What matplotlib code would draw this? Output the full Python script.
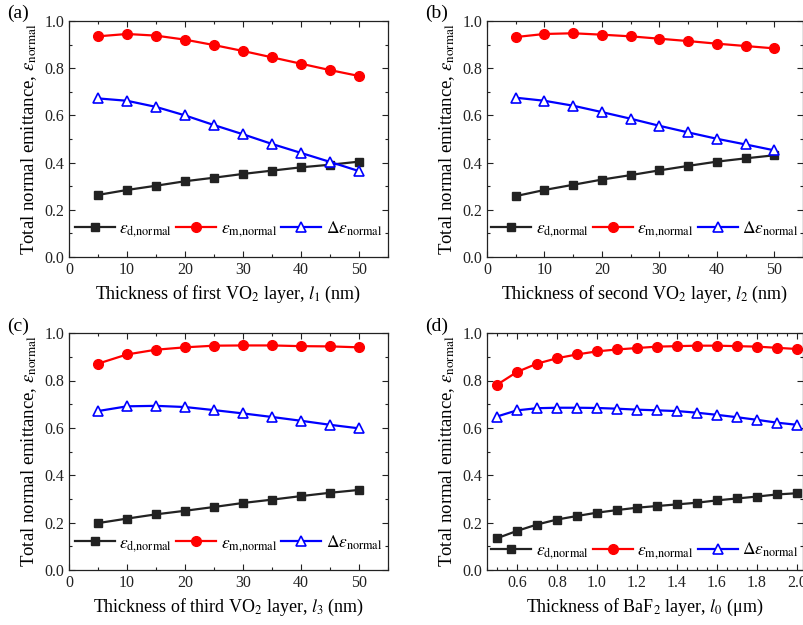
import numpy as np
import matplotlib
matplotlib.use("Agg")
import matplotlib.pyplot as plt
from matplotlib.ticker import MultipleLocator, FormatStrFormatter

plt.rcParams['font.family'] = ['Liberation Serif', 'DejaVu Serif']
plt.rcParams['mathtext.fontset'] = 'stix'

# (a) first VO2 layer thickness (nm)
l1 = [5, 10, 15, 20, 25, 30, 35, 40, 45, 50]
a_d = [0.263, 0.284, 0.302, 0.321, 0.336, 0.352, 0.366, 0.380, 0.391, 0.404]
a_m = [0.935, 0.945, 0.938, 0.921, 0.898, 0.873, 0.846, 0.819, 0.792, 0.767]
a_delta = [0.672, 0.662, 0.636, 0.600, 0.559, 0.520, 0.479, 0.441, 0.403, 0.364]

# (b) second VO2 layer thickness (nm)
l2 = [5, 10, 15, 20, 25, 30, 35, 40, 45, 50]
b_d = [0.258, 0.284, 0.306, 0.328, 0.347, 0.367, 0.386, 0.404, 0.418, 0.431]
b_m = [0.932, 0.945, 0.948, 0.942, 0.935, 0.925, 0.915, 0.904, 0.894, 0.884]
b_delta = [0.675, 0.662, 0.641, 0.614, 0.586, 0.556, 0.528, 0.501, 0.477, 0.452]

# (c) third VO2 layer thickness (nm)
l3 = [5, 10, 15, 20, 25, 30, 35, 40, 45, 50]
c_d = [0.198, 0.217, 0.235, 0.250, 0.266, 0.283, 0.297, 0.312, 0.326, 0.338]
c_m = [0.871, 0.910, 0.930, 0.940, 0.947, 0.948, 0.948, 0.945, 0.944, 0.940]
c_delta = [0.671, 0.691, 0.693, 0.688, 0.675, 0.661, 0.646, 0.630, 0.613, 0.598]

# (d) BaF2 layer thickness (um)
l0 = [0.5, 0.6, 0.7, 0.8, 0.9, 1.0, 1.1, 1.2, 1.3, 1.4, 1.5, 1.6, 1.7, 1.8, 1.9, 2.0]
d_d = [0.134, 0.165, 0.192, 0.213, 0.228, 0.242, 0.253, 0.263, 0.270, 0.277,
       0.284, 0.294, 0.302, 0.310, 0.319, 0.324]
d_m = [0.782, 0.836, 0.871, 0.894, 0.910, 0.923, 0.931, 0.937, 0.943, 0.945,
       0.947, 0.947, 0.945, 0.943, 0.938, 0.933]
d_delta = [0.648, 0.674, 0.683, 0.685, 0.685, 0.684, 0.681, 0.677, 0.674, 0.671,
           0.664, 0.655, 0.645, 0.634, 0.622, 0.613]

panels = [
    ('(a)', l1, a_d, a_m, a_delta, r'Thickness of first VO$_2$ layer, $l_1$ (nm)'),
    ('(b)', l2, b_d, b_m, b_delta, r'Thickness of second VO$_2$ layer, $l_2$ (nm)'),
    ('(c)', l3, c_d, c_m, c_delta, r'Thickness of third VO$_2$ layer, $l_3$ (nm)'),
    ('(d)', l0, d_d, d_m, d_delta, r'Thickness of BaF$_2$ layer, $l_0$ (μm)'),
]

# axes rectangles in figure fractions
rects = [
    [0.0858, 0.5888, 0.3968, 0.3776],
    [0.6057, 0.5888, 0.3930, 0.3776],
    [0.0858, 0.0880, 0.3968, 0.3790],
    [0.6057, 0.0880, 0.3930, 0.3790],
]
label_pos = [(0.009, 0.978), (0.529, 0.978), (0.009, 0.478), (0.529, 0.478)]
legend_y = [0.045, 0.045, 0.04, 0.008]

fig = plt.figure(figsize=(8.04, 6.25), dpi=100)

for i, (tag, x, yd, ym, ydel, xlabel) in enumerate(panels):
    ax = fig.add_axes(rects[i])
    ax.plot(x, yd, '-s', color='#222222', lw=1.6, ms=6, label=r'$\varepsilon_{\mathrm{d{,}normal}}$')
    ax.plot(x, ym, '-o', color='red', lw=1.6, ms=7, label=r'$\varepsilon_{\mathrm{m{,}normal}}$')
    ax.plot(x, ydel, '-^', color='blue', lw=1.6, ms=7, mfc='white', mew=1.2,
            label=r'$\Delta\varepsilon_{\mathrm{normal}}$')
    if tag == '(d)':
        ax.set_xlim(0.45, 2.03)
        ax.xaxis.set_major_locator(MultipleLocator(0.2))
        ax.xaxis.set_minor_locator(MultipleLocator(0.05))
        ax.xaxis.set_major_formatter(FormatStrFormatter('%.1f'))
    else:
        ax.set_xlim(0, 55)
        ax.xaxis.set_major_locator(MultipleLocator(10))
        ax.xaxis.set_minor_locator(MultipleLocator(5))
    ax.set_ylim(0, 1.0)
    ax.yaxis.set_major_locator(MultipleLocator(0.2))
    ax.yaxis.set_minor_locator(MultipleLocator(0.1))
    ax.yaxis.set_major_formatter(FormatStrFormatter('%.1f'))
    ax.tick_params(which='both', direction='in', top=True, right=True, labelsize=11.5, colors='#222222')
    ax.tick_params(which='major', length=4.5, width=0.8)
    ax.tick_params(which='minor', length=2.5, width=0.8)
    for s in ax.spines.values():
        s.set_linewidth(0.9)
        s.set_color('#222222')
    ax.set_xlabel(xlabel, fontsize=13, labelpad=4)
    ax.set_ylabel(r'Total normal emittance, $\varepsilon_{\mathrm{normal}}$', fontsize=13.5, labelpad=4)
    ax.legend(loc='lower center', bbox_to_anchor=(0.5, legend_y[i]), ncol=3, frameon=False,
              fontsize=12.5, handlelength=2.3, columnspacing=0.25, handletextpad=0.25,
              borderaxespad=0)
    fig.text(label_pos[i][0], label_pos[i][1], tag, fontsize=14, va='center', ha='left')

fig.savefig('out.png', dpi=100)
